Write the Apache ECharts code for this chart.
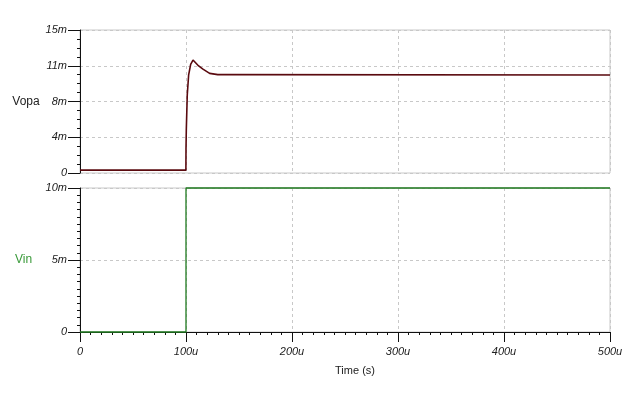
<!DOCTYPE html>
<html><head><meta charset="utf-8">
<script src="https://cdn.jsdelivr.net/npm/echarts@6/dist/echarts.min.js"></script>
<style>html,body{margin:0;padding:0;background:#fff}#c{width:639px;height:417px}</style>
</head><body><div id="c"></div>
<script>
// Data (time in µs, voltage in mV)
const vopaTime = [0, 99.9, 100, 100.3, 101.2, 102.5, 104.4, 106.6, 111.3, 116, 122.3, 130, 136, 137, 500];
const vopaValue = [0.3, 0.3, 2.5, 4.6, 8.2, 10.3, 11.4, 11.85, 11.3, 10.9, 10.45, 10.32, 10.32, 10.28, 10.28];
const vinTime = [0, 100, 100, 500];
const vinValue = [0, 0, 10, 10];
const topTickValues = [0, 3.75, 7.5, 11.25, 15];
const topTickLabels = ['0', '4m', '8m', '11m', '15m'];
const bottomTickValues = [0, 5, 10];
const bottomTickLabels = ['0', '5m', '10m'];
const xTickValues = [0, 100, 200, 300, 400, 500];
const xTickLabels = ['0', '100u', '200u', '300u', '400u', '500u'];

const pair = (xs, ys) => xs.map((x, i) => [x, ys[i]]);
const labelOf = (vals, labs) => v => { const i = vals.findIndex(t => Math.abs(t - v) < 1e-6); return i >= 0 ? labs[i] : ''; };

const font = 'Liberation Sans, Arial, sans-serif';
const gridColor = '#c8c8c8';
const labelStyle = { color: '#222', fontStyle: 'italic', fontSize: 11, fontFamily: font };

const chart = echarts.init(document.getElementById('c'));
chart.setOption({
  backgroundColor: '#fff',
  animation: false,
  grid: [
    { left: 80, right: 29, top: 30, height: 143, show: true, borderColor: gridColor, borderWidth: 1, backgroundColor: 'transparent' },
    { left: 80, right: 29, top: 188, height: 144, show: true, borderColor: gridColor, borderWidth: 1, backgroundColor: 'transparent' }
  ],
  xAxis: [
    { gridIndex: 0, type: 'value', min: 0, max: 500, interval: 100,
      axisLine: { show: false }, axisTick: { show: false }, axisLabel: { show: false },
      splitLine: { show: true, lineStyle: { color: gridColor, type: [3, 3] } } },
    { gridIndex: 1, type: 'value', min: 0, max: 500, interval: 100,
      name: 'Time (s)', nameLocation: 'middle', nameGap: 33,
      nameTextStyle: { color: '#222', fontSize: 11, fontFamily: font, padding: [0, 0, 0, 20] },
      axisLine: { show: true, onZero: false, lineStyle: { color: '#111', width: 1 } },
      axisTick: { show: true, length: 10, lineStyle: { color: '#111' } },
      minorTick: { show: true, splitNumber: 10, length: 3, lineStyle: { color: '#111' } },
      axisLabel: Object.assign({ margin: 14, formatter: labelOf(xTickValues, xTickLabels) }, labelStyle),
      splitLine: { show: true, lineStyle: { color: gridColor, type: [3, 3] } } },
  ],
  yAxis: [
    { gridIndex: 0, type: 'value', min: 0, max: 15, interval: 3.75,
      name: 'Vopa', nameLocation: 'middle', nameGap: 65, nameRotate: 0,
      nameTextStyle: { color: '#222', fontSize: 12, fontFamily: font, align: 'left', padding: [0, 0, 5, 0] },
      axisLine: { show: true, lineStyle: { color: '#111', width: 1 } },
      axisTick: { show: true, length: 12, lineStyle: { color: '#111' } },
      minorTick: { show: true, splitNumber: 4, length: 3, lineStyle: { color: '#111' } },
      axisLabel: Object.assign({ margin: 13, formatter: labelOf(topTickValues, topTickLabels) }, labelStyle),
      splitLine: { show: true, lineStyle: { color: gridColor, type: [3, 3] } } },
    { gridIndex: 1, type: 'value', min: 0, max: 10, interval: 5,
      name: 'Vin', nameLocation: 'middle', nameGap: 65, nameRotate: 0,
      nameTextStyle: { color: '#3a9a3a', fontSize: 12, fontFamily: font, align: 'left', padding: [0, 0, 10, 0] },
      axisLine: { show: true, lineStyle: { color: '#111', width: 1 } },
      axisTick: { show: true, length: 12, lineStyle: { color: '#111' } },
      minorTick: { show: true, splitNumber: 10, length: 3, lineStyle: { color: '#111' } },
      axisLabel: Object.assign({ margin: 13, formatter: labelOf(bottomTickValues, bottomTickLabels) }, labelStyle),
      splitLine: { show: true, lineStyle: { color: gridColor, type: [3, 3] } } }
  ],
  series: [
    { type: 'line', xAxisIndex: 0, yAxisIndex: 0, data: pair(vopaTime, vopaValue), showSymbol: false, smooth: false,
      lineStyle: { color: '#5a0a0f', width: 1.6 }, clip: true },
    { type: 'line', xAxisIndex: 1, yAxisIndex: 1, data: pair(vinTime, vinValue), showSymbol: false,
      lineStyle: { color: '#1f7a1f', width: 1.3 }, clip: false }
  ]
});
</script></body></html>
